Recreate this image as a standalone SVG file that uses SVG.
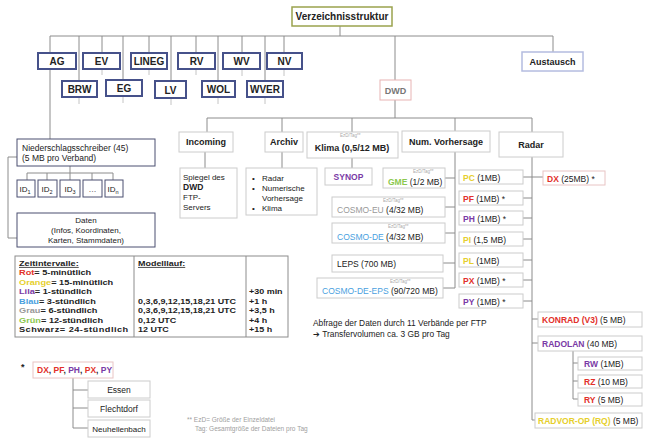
<svg xmlns="http://www.w3.org/2000/svg" width="648" height="438" viewBox="0 0 648 438">
<style>
.t{font-family:"Liberation Sans",Arial,sans-serif;fill:#222}
.b{font-weight:bold}
.c{stroke:#8c8c8c;stroke-width:1;fill:none}
.tk{stroke:#c4c4c4;stroke-width:1;fill:none}
.nb{fill:#fff;stroke:#46518a;stroke-width:2}
.gb{fill:#fff;stroke:#cccccc;stroke-width:1}
.db{fill:#fff;stroke:#4a4f70;stroke-width:1}
.s10{font-size:10px}
.s9{font-size:9px}
.s85{font-size:8.5px}
.s8{font-size:8px}
.lg{font-size:8px;font-weight:bold}
.tiny{font-size:4.5px;fill:#aaa}
.red{fill:#e2302a}
.yel{fill:#e6cf2c}
.lil{fill:#7a3aa6}
.blu{fill:#4a9fe0}
.gra{fill:#999}
.grn{fill:#8cc84e}
.mid{text-anchor:middle}
</style>
<rect width="648" height="438" fill="#fff"/>
<g id="connectors">
<path class="c" d="M340 26V36M50 36H553M50 36V139M79 36V80M102 36V53M123 36V80M149 36V53M171 36V80M196 36V53M218 36V82M242 36V53M265 36V82M284 36V53M395 36V80M553 36V52"/>
<path class="tk" d="M102 69V75M149 69V75M196 69V75M242 70V76M284 70V76M79 97V104M123 96V103M171 98V105M218 97V104M265 97V104"/>
<path class="c" d="M70 166V173M27 173H113M27 173V180M47 173V180M70 173V180M92 173V180M113 173V180M17 157H8V238H17"/>
<path class="c" d="M395 100V118M207 118H532M207 118V132M282 118V132M352 118V132M455 118V288M532 118V420"/>
<path class="c" d="M205 152V168M282 152V168M352 158V168"/>
<path class="c" d="M445 178H455M445 207H455M445 233H455M443 263H455M443 288H455"/>
<path class="c" d="M523 177H543M523 198H532M523 218H532M523 239H532M523 260H532M523 280H532M523 301H532"/>
<path class="c" d="M532 319H538M532 343H538M532 420H535M573 351V399M573 363H578M573 381H578M573 399H578"/>
<path class="c" d="M73 378V428M73 390H88M73 408H88M73 428H88"/>
</g>
<g id="n-root"><rect x="292" y="7" width="100" height="19" fill="#fff" stroke="#9aa34e" stroke-width="1.5"/><text class="t b s10 mid" x="342" y="20">Verzeichnisstruktur</text></g>
<g id="n-ag"><rect class="nb" x="38" y="53" width="38" height="16"/><text class="t b s10 mid" x="57" y="65">AG</text></g>
<g id="n-ev"><rect class="nb" x="83" y="53" width="37" height="16"/><text class="t b s10 mid" x="101.5" y="65">EV</text></g>
<g id="n-lineg"><rect class="nb" x="131" y="53" width="36" height="16"/><text class="t b s10 mid" x="149" y="65">LINEG</text></g>
<g id="n-rv"><rect class="nb" x="178" y="53" width="37" height="16"/><text class="t b s10 mid" x="196.5" y="65">RV</text></g>
<g id="n-wv"><rect class="nb" x="223" y="53" width="37" height="16"/><text class="t b s10 mid" x="241.5" y="65">WV</text></g>
<g id="n-nv"><rect class="nb" x="267" y="53" width="35" height="16"/><text class="t b s10 mid" x="284.5" y="65">NV</text></g>
<g id="n-brw"><rect class="nb" x="62" y="81" width="35" height="16"/><text class="t b s10 mid" x="79.5" y="93">BRW</text></g>
<g id="n-eg"><rect class="nb" x="106" y="80" width="36" height="16"/><text class="t b s10 mid" x="124" y="92">EG</text></g>
<g id="n-lv"><rect class="nb" x="155" y="81" width="31" height="17"/><text class="t b s10 mid" x="170.5" y="93.5">LV</text></g>
<g id="n-wol"><rect class="nb" x="202" y="81" width="33" height="16"/><text class="t b s10 mid" x="218.5" y="93">WOL</text></g>
<g id="n-wver"><rect class="nb" x="247" y="81" width="36" height="16"/><text class="t b s10 mid" x="265" y="93">WVER</text></g>
<g id="n-dwd"><rect x="380" y="80" width="31" height="20" fill="#fff" stroke="#e8b4b4" stroke-width="1"/><text class="t b s9 mid" x="395.5" y="93.5" style="fill:#777">DWD</text></g>
<g id="n-austausch"><rect x="522" y="52" width="61" height="19" fill="#fff" stroke="#b4bce0" stroke-width="1.5"/><text class="t b s9 mid" x="552.5" y="65">Austausch</text></g>
<g id="n-nieder"><rect class="db" x="17" y="139" width="138" height="27"/><text class="t s85" x="22" y="151">Niederschlagsschreiber (45)</text><text class="t s85" x="22" y="161">(5 MB pro Verband)</text></g>
<g id="n-id1"><rect class="db" x="17" y="180" width="18" height="17"/><text class="t s8 mid" x="25" y="192">ID<tspan font-size="5.5" dy="1.5">1</tspan></text></g>
<g id="n-id2"><rect class="db" x="38" y="180" width="19" height="17"/><text class="t s8 mid" x="47" y="192">ID<tspan font-size="5.5" dy="1.5">2</tspan></text></g>
<g id="n-id3"><rect class="db" x="60" y="180" width="20" height="17"/><text class="t s8 mid" x="70" y="192">ID<tspan font-size="5.5" dy="1.5">3</tspan></text></g>
<g id="n-iddots"><rect class="db" x="83" y="180" width="19" height="17"/><text class="t s8 mid" x="92.5" y="192">…</text></g>
<g id="n-idn"><rect class="db" x="105" y="180" width="18" height="17"/><text class="t s8 mid" x="113" y="192">ID<tspan font-size="5.5" dy="1.5">n</tspan></text></g>
<g id="n-daten"><rect class="db" x="17" y="213" width="138" height="34"/><text class="t s8 mid" x="86" y="223">Daten</text><text class="t s8 mid" x="86" y="233">(Infos, Koordinaten,</text><text class="t s8 mid" x="86" y="243">Karten, Stammdaten)</text></g>
<g id="n-incoming"><rect class="gb" x="179" y="132" width="54" height="20"/><text class="t b s9 mid" x="206" y="145">Incoming</text></g>
<g id="n-archiv"><rect class="gb" x="265" y="132" width="38" height="20"/><text class="t b s9 mid" x="284" y="145">Archiv</text></g>
<g id="n-klima"><rect class="gb" x="307" y="132" width="91" height="26"/><text class="t tiny" x="340" y="137">EzD/Tag**</text><text class="t b s9 mid" x="352" y="151">Klima (0,5/12 MB)</text></g>
<g id="n-numvor"><rect class="gb" x="402" y="131" width="88" height="21"/><text class="t b s9 mid" x="446" y="145">Num. Vorhersage</text></g>
<g id="n-radar"><rect class="gb" x="499" y="132" width="64" height="25"/><text class="t b s9 mid" x="531" y="147.5">Radar</text></g>
<g id="n-spiegel"><rect class="gb" x="180" y="168" width="57" height="50"/><text class="t s8" x="183" y="180">Spiegel des</text><text class="t b s85" x="183" y="190">DWD</text><text class="t s8" x="183" y="200">FTP-</text><text class="t s8" x="183" y="210">Servers</text></g>
<g id="n-archlist"><rect class="gb" x="246" y="168" width="71" height="47"/><text class="t s8" x="252" y="181">•</text><text class="t s8" x="262" y="181">Radar</text><text class="t s8" x="252" y="191">•</text><text class="t s8" x="262" y="191">Numerische</text><text class="t s8" x="262" y="201">Vorhersage</text><text class="t s8" x="252" y="211">•</text><text class="t s8" x="262" y="211">Klima</text></g>
<g id="n-synop"><rect class="gb" x="325" y="168" width="47" height="17"/><text class="t b s85 mid lil" x="348.5" y="180">SYNOP</text></g>
<g id="n-gme"><rect class="gb" x="383" y="168" width="62" height="20"/><text class="t tiny" x="413" y="173">EzD/Tag**</text><text class="t s85" x="388" y="185"><tspan class="grn b">GME</tspan> (1/2 MB)</text></g>
<g id="n-cosmoeu"><rect class="gb" x="332" y="197" width="113" height="20"/><text class="t tiny" x="383" y="202">EzD/Tag**</text><text class="t s85" x="337" y="213"><tspan class="gra">COSMO-EU</tspan> (4/32 MB)</text></g>
<g id="n-cosmode"><rect class="gb" x="332" y="223" width="113" height="20"/><text class="t tiny" x="388" y="228">EzD/Tag**</text><text class="t s85" x="337" y="240"><tspan class="blu">COSMO-DE</tspan> (4/32 MB)</text></g>
<g id="n-leps"><rect class="gb" x="332" y="255" width="111" height="17"/><text class="t s85" x="337" y="267">LEPS (700 MB)</text></g>
<g id="n-cosmoeps"><rect class="gb" x="317" y="278" width="126" height="20"/><text class="t tiny" x="390" y="283">EzD/Tag**</text><text class="t s85" x="322" y="294"><tspan class="blu">COSMO-DE-EPS</tspan> (90/720 MB)</text></g>
<g id="n-pc"><rect class="gb" x="459" y="170" width="64" height="14"/><text class="t s85" x="463" y="180.5"><tspan class="yel b">PC</tspan> (1MB)</text></g>
<g id="n-pf"><rect class="gb" x="459" y="191" width="64" height="14"/><text class="t s85" x="463" y="201.5"><tspan class="red b">PF</tspan> (1MB) *</text></g>
<g id="n-ph"><rect class="gb" x="459" y="211" width="64" height="14"/><text class="t s85" x="463" y="221.5"><tspan class="lil b">PH</tspan> (1MB) *</text></g>
<g id="n-pi"><rect class="gb" x="459" y="232" width="64" height="14"/><text class="t s85" x="463" y="242.5"><tspan class="yel b">PI</tspan> (1,5 MB)</text></g>
<g id="n-pl"><rect class="gb" x="459" y="253" width="64" height="14"/><text class="t s85" x="463" y="263.5"><tspan class="yel b">PL</tspan> (1MB)</text></g>
<g id="n-px"><rect class="gb" x="459" y="273" width="64" height="14"/><text class="t s85" x="463" y="283.5"><tspan class="red b">PX</tspan> (1MB) *</text></g>
<g id="n-py"><rect class="gb" x="459" y="294" width="64" height="14"/><text class="t s85" x="463" y="304.5"><tspan class="lil b">PY</tspan> (1MB) *</text></g>
<g id="n-dx"><rect x="543" y="171" width="62" height="14" fill="#fff" stroke="#e8c4c4" stroke-width="1"/><text class="t s85" x="547" y="181.5"><tspan class="red b">DX</tspan> (25MB) *</text></g>
<g id="n-konrad"><rect class="gb" x="538" y="312" width="104" height="15"/><text class="t s85" x="542" y="323"><tspan class="red b">KONRAD (V3)</tspan> (5 MB)</text></g>
<g id="n-radolan"><rect class="gb" x="538" y="336" width="104" height="15"/><text class="t s85" x="542" y="347"><tspan class="lil b">RADOLAN</tspan> (40 MB)</text></g>
<g id="n-rw"><rect class="gb" x="578" y="357" width="64" height="13"/><text class="t s85" x="584" y="366.5"><tspan class="lil b">RW</tspan> (1MB)</text></g>
<g id="n-rz"><rect class="gb" x="578" y="375" width="64" height="13"/><text class="t s85" x="584" y="384.5"><tspan class="red b">RZ</tspan> (10 MB)</text></g>
<g id="n-ry"><rect class="gb" x="578" y="393" width="64" height="13"/><text class="t s85" x="584" y="402.5"><tspan class="red b">RY</tspan> (5 MB)</text></g>
<g id="n-radvor"><rect class="gb" x="535" y="413" width="107" height="15"/><text class="t s85" x="538" y="424"><tspan class="yel b">RADVOR-OP (RQ)</tspan> (5 MB)</text></g>
<g id="legend">
<rect x="15" y="256" width="273" height="81" fill="#fff" stroke="#8c8c8c" stroke-width="1"/>
<path class="c" d="M134 256V337M246 256V337"/>
<g transform="translate(19 0) scale(1.15 1)">
<text class="t lg" x="0" y="266" text-decoration="underline">Zeitintervalle:</text>
<text class="t lg" x="0" y="275.5"><tspan class="red">Rot</tspan>= 5-minütlich</text>
<text class="t lg" x="0" y="285"><tspan class="yel">Orange</tspan>= 15-minütlich</text>
<text class="t lg" x="0" y="294.5"><tspan class="lil">Lila</tspan>= 1-stündlich</text>
<text class="t lg" x="0" y="304"><tspan class="blu">Blau</tspan>= 3-stündlich</text>
<text class="t lg" x="0" y="313.5"><tspan class="gra">Grau</tspan>= 6-stündlich</text>
<text class="t lg" x="0" y="323"><tspan class="grn">Grün</tspan>= 12-stündlich</text>
<text class="t lg" x="0" y="332.5" textLength="95" lengthAdjust="spacing">Schwarz= 24-stündlich</text>
</g>
<g transform="translate(138 0) scale(1.12 1)">
<text class="t lg" x="0" y="266" text-decoration="underline">Modelllauf:</text>
<text class="t lg" x="0" y="304">0,3,6,9,12,15,18,21 UTC</text>
<text class="t lg" x="0" y="313.5">0,3,6,9,12,15,18,21 UTC</text>
<text class="t lg" x="0" y="323">0,12 UTC</text>
<text class="t lg" x="0" y="332.5">12 UTC</text>
</g>
<g transform="translate(249 0) scale(1.12 1)">
<text class="t lg" x="0" y="294.5">+30 min</text>
<text class="t lg" x="0" y="304">+1 h</text>
<text class="t lg" x="0" y="313.5">+3,5 h</text>
<text class="t lg" x="0" y="323">+4 h</text>
<text class="t lg" x="0" y="332.5">+15 h</text>
</g>
</g>
<text class="t b s9" x="21" y="370">*</text>
<g id="n-star"><rect x="33" y="362" width="80" height="16" fill="#fff" stroke="#e8c4c4" stroke-width="1"/><text class="t b s85" x="37" y="373"><tspan class="red">DX</tspan>, <tspan class="red">PF</tspan>, <tspan class="lil">PH</tspan>, <tspan class="red">PX</tspan>, <tspan class="lil">PY</tspan></text></g>
<g id="n-essen"><rect class="gb" x="88" y="381" width="62" height="17"/><text class="t s85 mid" x="119" y="393">Essen</text></g>
<g id="n-flechtdorf"><rect class="gb" x="88" y="400" width="62" height="17"/><text class="t s85 mid" x="119" y="412">Flechtdorf</text></g>
<g id="n-neuhellenbach"><rect class="gb" x="88" y="420" width="62" height="17"/><text class="t s8 mid" x="119" y="432">Neuhellenbach</text></g>
<text class="t" font-size="8.4" x="313" y="326">Abfrage der Daten durch 11 Verbände per FTP</text>
<text class="t" font-size="8.4" x="313" y="337">➔ Transfervolumen ca. 3 GB pro Tag</text>
<text class="t" font-size="6.5" x="187" y="422" style="fill:#a0a0a0">** EzD= Größe der Einzeldatei</text>
<text class="t" font-size="6.5" x="195" y="431" style="fill:#a0a0a0">Tag: Gesamtgröße der Dateien pro Tag</text>
</svg>
